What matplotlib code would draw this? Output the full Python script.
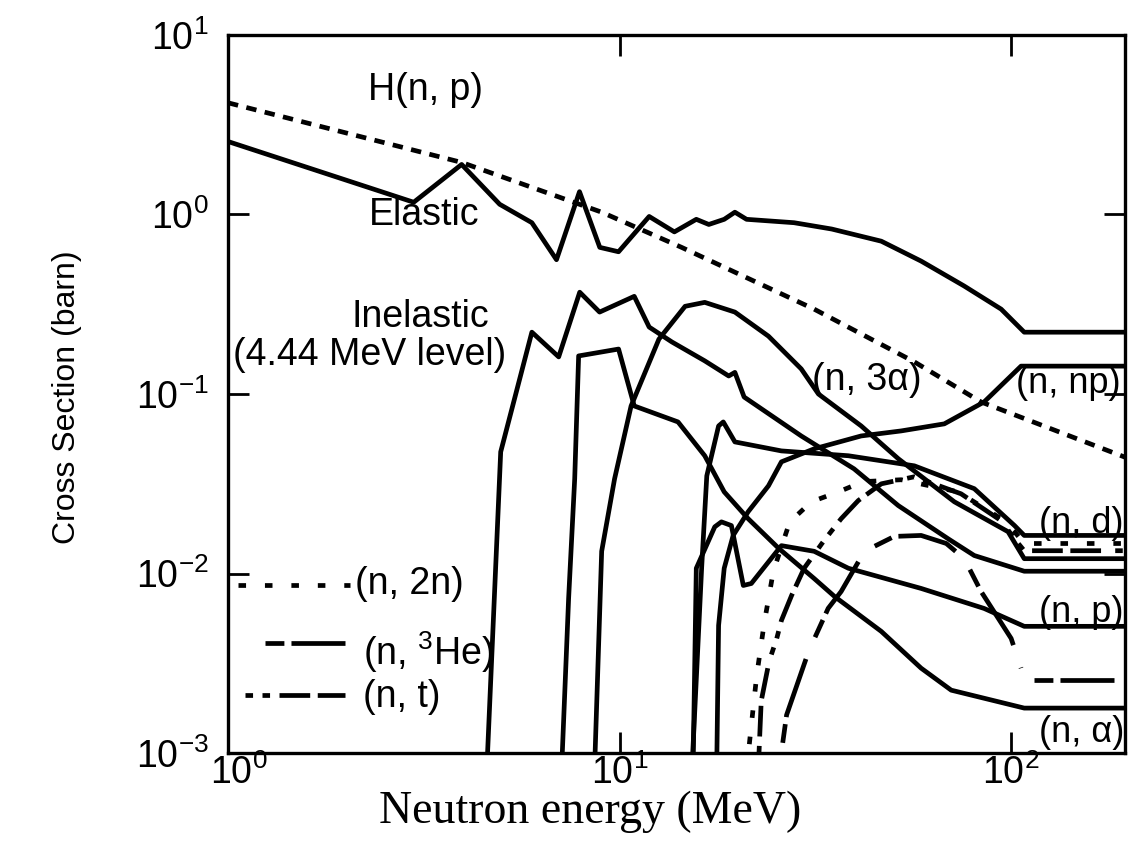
import matplotlib
matplotlib.use("Agg")
import matplotlib.pyplot as plt
from matplotlib.lines import Line2D
from matplotlib.transforms import ScaledTranslation
from matplotlib.ticker import LogLocator, LogFormatterMathtext, NullLocator

plt.rcParams.update({
    "font.family": ["Liberation Sans", "DejaVu Sans"],
    "mathtext.fontset": "custom",
    "mathtext.rm": "Liberation Sans",
    "mathtext.it": "Liberation Sans:italic",
    "mathtext.default": "regular",
    "axes.unicode_minus": False,
})

# --- data (energy in MeV, cross section in barn) ---
e_hnp = [1.0, 3.95, 9.0, 14.4, 31.4, 56.6, 83.8, 200]
s_hnp = [4.19, 1.95, 1.03, 0.656, 0.297, 0.151, 0.0903, 0.0436]

e_el = [1.0, 2.98, 3.95, 4.94, 5.97, 6.9, 7.9, 8.9, 9.94, 11.9, 13.8, 15.7, 16.9,
        18.5, 19.7, 21.1, 27.9, 34.8, 46.6, 58.9, 75.8, 94.3, 108, 200]
s_el = [2.55, 1.17, 1.90, 1.14, 0.90, 0.56, 1.34, 0.656, 0.62, 0.975, 0.80, 0.94, 0.88,
        0.94, 1.03, 0.94, 0.90, 0.83, 0.71, 0.55, 0.40, 0.297, 0.221, 0.221]

e_inel = [4.58, 4.97, 5.97, 6.99, 7.91, 8.89, 10.9, 11.9, 13.6, 16.5, 19.0, 19.7,
          20.8, 29.1, 39.7, 51.5, 69.1, 80.5, 108, 200]
s_inel = [0.0008, 0.0476, 0.221, 0.161, 0.369, 0.286, 0.350, 0.236, 0.195, 0.153,
          0.126, 0.132, 0.0962, 0.0584, 0.0383, 0.0239, 0.0156, 0.0126, 0.0103, 0.0103]

e_na = [7.11, 7.41, 7.68, 7.86, 9.94, 10.9, 14.1, 16.5, 18.5, 21.3, 25.5, 31.4, 35.4,
        46.6, 58.9, 70.3, 108, 200]
s_na = [0.0008, 0.00726, 0.0337, 0.163, 0.178, 0.0858, 0.0699, 0.0453, 0.0285, 0.0202,
        0.0138, 0.00938, 0.00745, 0.00476, 0.00297, 0.00224, 0.00178, 0.00178]

e_n3a = [8.63, 9.0, 9.71, 10.7, 12.6, 14.7, 16.5, 19.7, 24.0, 29.1, 32.2, 41.4, 51.5,
         71.6, 98.2, 108, 200]
s_n3a = [0.0008, 0.0133, 0.0337, 0.0858, 0.202, 0.308, 0.324, 0.286, 0.210, 0.138,
         0.100, 0.0664, 0.0436, 0.0251, 0.0171, 0.0121, 0.0121]

e_nd = [15.3, 16.2, 16.7, 17.9, 18.4, 19.7, 25.9, 38.4, 56.6, 80.5, 102, 108, 200]
s_nd = [0.0008, 0.0107, 0.035, 0.0664, 0.0699, 0.0541, 0.0482, 0.0453, 0.0398, 0.0297,
        0.0185, 0.0163, 0.0163]

e_np = [15.4, 15.7, 17.5, 18.2, 19.3, 20.7, 21.7, 25.9, 31.4, 38.4, 58.9, 85.3, 108, 200]
s_np = [0.0008, 0.0107, 0.0182, 0.0194, 0.0185, 0.00858, 0.0088, 0.0143, 0.0133, 0.0107,
        0.00826, 0.00639, 0.00508, 0.00508]

e_nnp = [17.7, 17.9, 18.5, 19.5, 21.3, 24.0, 25.9, 31.4, 41.4, 52.4, 67.5, 85.3, 106, 200]
s_nnp = [0.0008, 0.00514, 0.0107, 0.0163, 0.0221, 0.0308, 0.0419, 0.0495, 0.0584, 0.0623,
         0.0682, 0.0903, 0.143, 0.143]

e_n2n = [21.1, 21.7, 22.4, 23.4, 24.7, 27.2, 30.9, 36.2, 41.9, 52.4, 73.2, 94.3, 102, 108, 200]
s_n2n = [0.0008, 0.00143, 0.00271, 0.00527, 0.0103, 0.0194, 0.0251, 0.0285, 0.0325, 0.0333,
         0.0285, 0.0202, 0.0171, 0.0147, 0.0147]

e_nt = [22.6, 23.0, 24.1, 25.2, 25.9, 27.5, 29.6, 33.3, 36.8, 40.7, 46.6, 56.6, 74.5, 94.3,
        102, 108, 200]
s_nt = [0.0008, 0.00195, 0.00325, 0.00435, 0.00548, 0.00755, 0.0107, 0.0153, 0.0202, 0.0255,
        0.0316, 0.0346, 0.0278, 0.0197, 0.0156, 0.0134, 0.0134]

e_nhe = [26.1, 26.7, 30.4, 34.1, 36.8, 42.2, 50.3, 58.9, 68.3, 75.9, 83.8, 100, 106]
s_nhe = [0.00114, 0.00163, 0.00369, 0.0064, 0.00794, 0.0133, 0.0161, 0.0163, 0.0147, 0.0121,
         0.00794, 0.00435, 0.00297]
e_nhe_tail = [114.5, 183]
s_nhe_tail = [0.00255, 0.00255]

# line styles (in units of line width)
DOT = (0, (2.2, 1.8))
DOT2N = (0, (1.6, 4.0))
DASH_HE = (0, (4.0, 1.5, 13.0, 5.0))
DASH_T = (0, (1.6, 2.0, 1.6, 2.0, 6.5, 1.6, 6.5, 3.0))

fig = plt.figure(figsize=(11.43, 8.51), dpi=100)
ax = fig.add_axes([0.1995, 0.1151, 0.7845, 0.8438])
ax.set_xscale("log")
ax.set_yscale("log")
ax.set_xlim(1, 195)
ax.set_ylim(1e-3, 10)

lw = 3.4
kw = dict(color="black", lw=lw)
ax.plot(e_hnp, s_hnp, ls=DOT, **kw)
ax.plot(e_el, s_el, **kw)
ax.plot(e_inel, s_inel, **kw)
ax.plot(e_na, s_na, **kw)
ax.plot(e_n3a, s_n3a, **kw)
ax.plot(e_nd, s_nd, **kw)
ax.plot(e_np, s_np, **kw)
ax.plot(e_nnp, s_nnp, **kw)
ax.plot(e_n2n, s_n2n, ls=DOT2N, **kw)
ax.plot(e_nt, s_nt, ls=DASH_T, **kw)
ax.plot(e_nhe, s_nhe, ls=DASH_HE, **kw)
ax.plot(e_nhe_tail, s_nhe_tail, ls=DASH_HE, **kw)

# axes styling
for sp in ax.spines.values():
    sp.set_linewidth(2.4)
ax.xaxis.set_major_locator(LogLocator(base=10, numticks=10))
ax.yaxis.set_major_locator(LogLocator(base=10, numticks=10))
ax.xaxis.set_minor_locator(NullLocator())
ax.yaxis.set_minor_locator(NullLocator())
ax.xaxis.set_major_formatter(LogFormatterMathtext())
ax.yaxis.set_major_formatter(LogFormatterMathtext())
ax.tick_params(which="major", direction="in", length=15, width=2,
               top=True, right=True, labelsize=27)
ax.tick_params(axis="x", pad=1)
ax.tick_params(axis="y", pad=14)

# nudge the 10^0 label on x a little right so it clears the 10^-3 label
fig.canvas.draw()
for lab in ax.get_xticklabels():
    if lab.get_position()[0] == 1:
        lab.set_transform(lab.get_transform() + ScaledTranslation(8 / 72, 0, fig.dpi_scale_trans))

# in-plot labels
tfs = 27
rfs = 26
ax.text(0.22, 0.923, "H(n, p)", transform=ax.transAxes, fontsize=tfs, ha="center", va="center")
ax.text(0.2185, 0.749, "Elastic", transform=ax.transAxes, fontsize=tfs, ha="center", va="center")
ax.text(0.214, 0.607, "Inelastic", transform=ax.transAxes, fontsize=tfs, ha="center", va="center")
ax.text(0.158, 0.554, "(4.44 MeV level)", transform=ax.transAxes, fontsize=tfs, ha="center", va="center")
ax.text(0.712, 0.519, "(n, 3α)", transform=ax.transAxes, fontsize=tfs, ha="center", va="center")
ax.text(0.937, 0.514, "(n, np)", transform=ax.transAxes, fontsize=rfs, ha="center", va="center")
ax.text(0.952, 0.320, "(n, d)", transform=ax.transAxes, fontsize=rfs, ha="center", va="center")
ax.text(0.952, 0.196, "(n, p)", transform=ax.transAxes, fontsize=rfs, ha="center", va="center")
ax.text(0.952, 0.028, "(n, α)", transform=ax.transAxes, fontsize=rfs, ha="center", va="center")

# hand-drawn style key (bottom left)
ax.add_line(Line2D([0.011, 0.136], [0.234, 0.234], transform=ax.transAxes, ls=DOT2N, **kw))
ax.add_line(Line2D([0.041, 0.130], [0.153, 0.153], transform=ax.transAxes, ls=DASH_HE, **kw))
ax.add_line(Line2D([0.019, 0.130], [0.081, 0.081], transform=ax.transAxes, ls=DASH_T, **kw))
ax.text(0.142, 0.236, "(n, 2n)", transform=ax.transAxes, fontsize=tfs, ha="left", va="center")
ax.text(0.150, 0.140, "(n, $^{3}$He)", transform=ax.transAxes, fontsize=tfs, ha="left", va="center")
ax.text(0.150, 0.078, "(n, t)", transform=ax.transAxes, fontsize=tfs, ha="left", va="center")

fig.text(0.059, 0.533, "Cross Section (barn)", rotation=90, fontsize=23,
         ha="center", va="center")
fig.text(0.516, 0.046, "Neutron energy (MeV)", fontsize=33, ha="center", va="center",
         family="Liberation Serif")

fig.savefig("out.png", dpi=100)
